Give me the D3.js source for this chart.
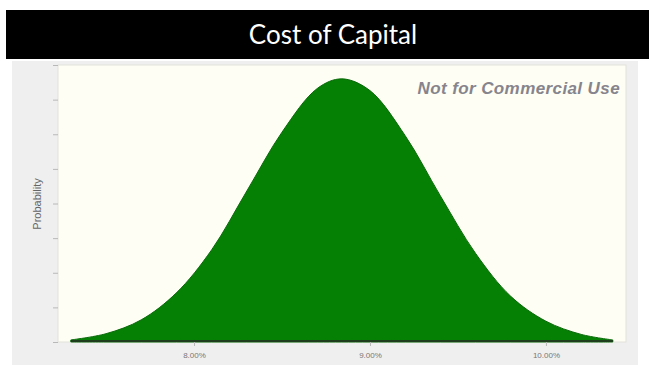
<!DOCTYPE html>
<html>
<head>
<meta charset="utf-8">
<script src="https://cdn.jsdelivr.net/npm/d3@7"></script>
<style>
  html, body { margin: 0; padding: 0; background: #fff; }
  #chart { width: 649px; height: 365px; }
</style>
</head>
<body>
<div id="chart"></div>
<script>
// Values
const chartTitle = 'Cost of Capital';
const watermark = 'Not for Commercial Use';
const yAxisLabel = 'Probability';

const xTickValues = [8, 9, 10];
const xTickLabels = ['8.00%', '9.00%', '10.00%'];
const yTickValues = [0, 0.005, 0.01, 0.015, 0.02, 0.025, 0.03, 0.035, 0.04];

// cost of capital (%) and probability along the curve outline
const costPct = [7.30, 7.50, 7.70, 7.90, 8.10, 8.30, 8.50, 8.70, 8.84,
                 9.00, 9.20, 9.40, 9.60, 9.80, 10.00, 10.20, 10.38];
const probability = [0.0003, 0.0012, 0.0032, 0.0071, 0.0133, 0.0218, 0.0303, 0.0366, 0.0380,
                     0.0363, 0.0298, 0.0211, 0.0128, 0.0066, 0.0030, 0.0011, 0.0003];

const width = 649;
const height = 365;
const plot = { left: 58, right: 626, top: 65, bottom: 342 };

const svg = d3.select('#chart')
    .append('svg')
    .attr('width', width)
    .attr('height', height);

// Title bar
svg.append('rect')
    .attr('x', 6).attr('y', 10)
    .attr('width', width - 6).attr('height', 49)
    .attr('fill', '#000');

svg.append('text')
    .attr('x', 333).attr('y', 44)
    .attr('text-anchor', 'middle')
    .attr('fill', '#fff')
    .style('font-family', 'Lato, "Open Sans", sans-serif')
    .style('font-size', '26px')
    .text(chartTitle);

// Grey panel behind the chart
svg.append('rect')
    .attr('x', 12).attr('y', 61)
    .attr('width', 626).attr('height', height - 61)
    .attr('fill', '#efefef');

// Plot background
svg.append('rect')
    .attr('x', plot.left).attr('y', plot.top)
    .attr('width', plot.right - plot.left).attr('height', plot.bottom - plot.top)
    .attr('fill', '#fefef4')
    .attr('stroke', '#e2e2dc')
    .attr('stroke-width', 1);

const x = d3.scaleLinear()
    .domain([7.227, 10.455])
    .range([plot.left, plot.right]);

const y = d3.scaleLinear()
    .domain([0, 0.04])
    .range([plot.bottom, plot.top]);

const points = costPct.map((c, i) => ({ c, p: probability[i] }));

// Distribution area
const area = d3.area()
    .x(d => x(d.c))
    .y0(y(0))
    .y1(d => y(d.p))
    .curve(d3.curveCatmullRom.alpha(0.5));

svg.append('path')
    .datum(points)
    .attr('d', area)
    .attr('fill', '#058005')
    .attr('stroke', '#0a6a0a')
    .attr('stroke-width', 1);

// darker baseline under the curve
svg.append('line')
    .attr('x1', x(costPct[0])).attr('x2', x(costPct[costPct.length - 1]))
    .attr('y1', y(0) - 1).attr('y2', y(0) - 1)
    .attr('stroke', '#1d3d1d')
    .attr('stroke-width', 2);

// Axes
const xAxis = d3.axisBottom(x)
    .tickValues(xTickValues)
    .tickFormat((d, i) => xTickLabels[i])
    .tickSize(4)
    .tickSizeOuter(0);

const gx = svg.append('g')
    .attr('transform', `translate(0,${plot.bottom})`)
    .call(xAxis);
gx.select('.domain').remove();
gx.selectAll('.tick line').attr('stroke', '#b8b8b8');
gx.selectAll('.tick text')
    .attr('fill', '#777')
    .attr('dy', '1.1em')
    .style('font-family', '"Liberation Sans", Arial, sans-serif')
    .style('font-size', '8px');

const yAxis = d3.axisLeft(y)
    .tickValues(yTickValues)
    .tickFormat('')
    .tickSize(5)
    .tickSizeOuter(0);

const gy = svg.append('g')
    .attr('transform', `translate(${plot.left},0)`)
    .call(yAxis);
gy.select('.domain').remove();
gy.selectAll('.tick line').attr('stroke', '#b8b8b8');

svg.append('text')
    .attr('transform', `translate(41,204) rotate(-90)`)
    .attr('text-anchor', 'middle')
    .attr('fill', '#666')
    .style('font-family', '"Liberation Sans", Arial, sans-serif')
    .style('font-size', '11px')
    .text(yAxisLabel);

// Watermark
svg.append('text')
    .attr('x', 620).attr('y', 94)
    .attr('text-anchor', 'end')
    .attr('fill', '#86848c')
    .style('font-family', '"Liberation Sans", Arial, sans-serif')
    .style('font-size', '17px')
    .style('letter-spacing', '0.4px')
    .style('font-weight', 'bold')
    .style('font-style', 'italic')
    .text(watermark);
</script>
</body>
</html>
